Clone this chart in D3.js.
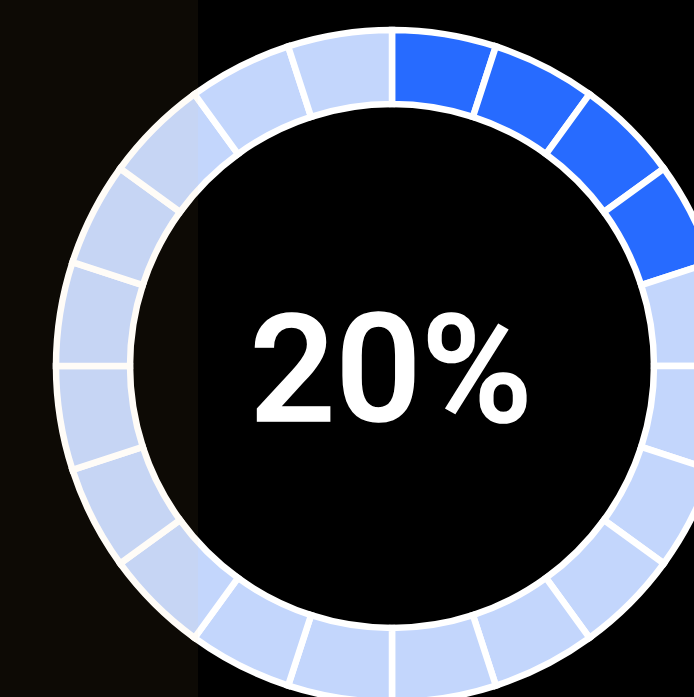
<!DOCTYPE html>
<html><head><meta charset="utf-8">
<script src="https://cdn.jsdelivr.net/npm/d3@7"></script>
<style>html,body{margin:0;padding:0;background:#000;overflow:hidden}</style>
</head><body>
<svg id="c" width="694" height="697"></svg>
<script>
const percentValue = 20;
const segmentValues = [1,1,1,1,1,1,1,1,1,1,1,1,1,1,1,1,1,1,1,1];
const segmentFilled = [1,1,1,1,0,0,0,0,0,0,0,0,0,0,0,0,0,0,0,0];
const labelText = ["20%"];

const svg = d3.select("#c");
const cx = 392, cy = 366;
const g = svg.append("g").attr("transform", `translate(${cx},${cy})`);
const pie = d3.pie().sort(null).value(d => d)(segmentValues);
const arc = d3.arc().innerRadius(262).outerRadius(336);
const color = d3.scaleOrdinal().domain([0,1]).range(["#c3d6fc", "#276bff"]);
g.selectAll("path").data(pie).join("path")
  .attr("d", arc)
  .attr("fill", (d,i) => color(segmentFilled[i]))
  .attr("stroke", "#fff")
  .attr("stroke-width", 6.5)
  .attr("stroke-linejoin", "miter");
g.append("text").text(labelText[0])
  .attr("x", -1).attr("y", 55)
  .attr("text-anchor", "middle")
  .attr("fill", "#fff")
  .attr("stroke", "#fff")
  .attr("stroke-width", 1.5)
  .attr("font-family", "Roboto, 'Liberation Sans', sans-serif")
  .attr("font-weight", 500)
  .attr("font-size", 151);
svg.append("rect").attr("x",0).attr("y",0).attr("width",198).attr("height",697)
  .attr("fill","rgb(255,200,90)").attr("fill-opacity",0.05);
</script>
</body></html>
